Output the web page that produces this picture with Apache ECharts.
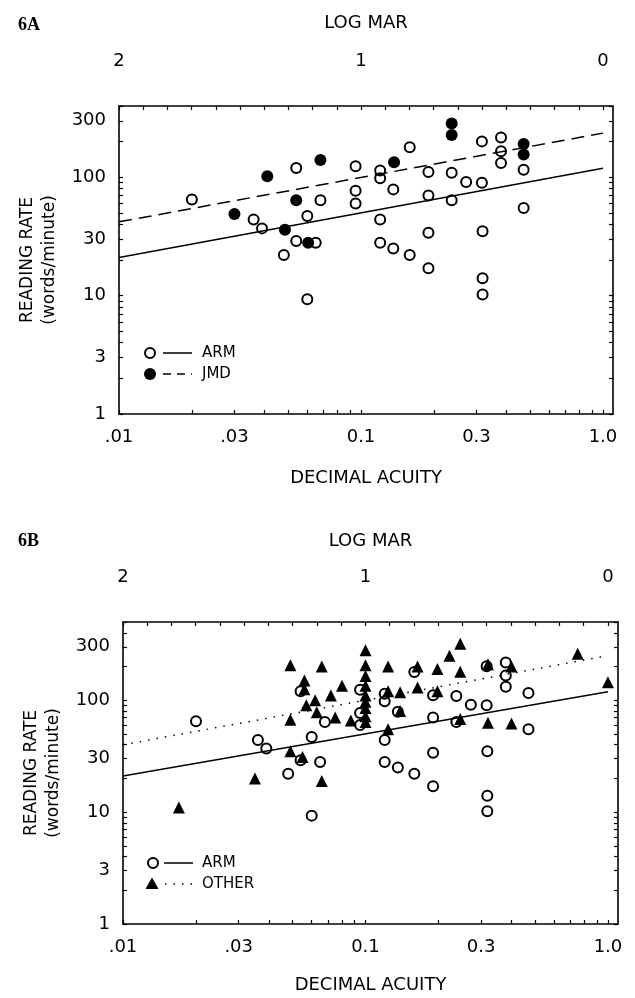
<!DOCTYPE html>
<html><head><meta charset="utf-8">
<script src="https://cdn.jsdelivr.net/npm/echarts@6/dist/echarts.min.js"></script>
<style>html,body{margin:0;padding:0;background:#fff}#c{width:635px;height:998px}</style>
</head><body><div id="c"></div>
<script>
// ---- data (decimal acuity, reading rate in words/minute) ----
const armAcuity = [0.020,0.036,0.039,0.054,0.054,0.048,0.060,0.065,0.060,0.068,0.095,0.095,0.095,0.120,0.120,0.120,0.120,0.136,0.136,0.159,0.159,0.190,0.190,0.190,0.190,0.237,0.237,0.272,0.316,0.316,0.318,0.318,0.318,0.379,0.379,0.379,0.470,0.470];
const armRate    = [65,44,37,120,29,22,47,28,9.3,64,124,77,60,114,98,44,28,79,25,179,22,111,70,34,17,109,64,91,201,90,35,14,10.2,217,166,132,116,55];

const jmdAcuity = [0.030,0.041,0.0485,0.054,0.0605,0.068,0.137,0.237,0.237,0.470,0.470];
const jmdRate    = [49,102,36,64,28,140,134,284,228,191,156];

const otherAcuity = [0.017,0.035,0.049,0.049,0.049,0.055,0.056,0.056,0.057,0.062,0.063,0.066,0.066,0.072,0.075,0.080,0.087,0.100,0.100,0.100,0.100,0.100,0.100,0.100,0.100,0.100,0.124,0.124,0.124,0.139,0.139,0.164,0.164,0.198,0.198,0.222,0.246,0.246,0.246,0.320,0.320,0.400,0.400,0.750,1.000];
const otherRate    = [11,20,205,67,35,31,150,125,90,100,78,200,19,110,70,135,66,280,205,165,135,110,97,85,72,64,200,120,55,80,118,200,130,190,120,250,320,180,68,210,63,200,62,260,145];

// regression lines (end points)
const fitAcuity    = [0.01, 1.0];
const armFitRate   = [21, 119];
const jmdFitRate   = [42, 236];
const otherFitRate = [40, 250];

// ---- ticks and labels ----
const acuityTickValues  = [0.01,0.02,0.03,0.04,0.05,0.06,0.07,0.08,0.09,0.1,0.2,0.3,0.4,0.5,0.6,0.7,0.8,0.9,1.0];
const acuityLabelValues = [0.01,0.03,0.1,0.3,1.0];
const acuityLabels      = ['.01','.03','0.1','0.3','1.0'];
const logMarTickValues  = [0,0.1,0.2,0.3,0.4,0.5,0.6,0.7,0.8,0.9,1.0,1.1,1.2,1.3,1.4,1.5,1.6,1.7,1.8,1.9,2.0];
const logMarLabelValues = [2,1,0];
const logMarLabels      = ['2','1','0'];
const rateTickValues    = [1,2,3,4,5,6,7,8,9,10,20,30,40,50,60,70,80,90,100,200,300,400,500];
const rateLabelValues   = [1,3,10,30,100,300];
const rateLabels        = ['1','3','10','30','100','300'];

const FONT = 'DejaVu Sans';
const BLACK = '#000';
const L10 = Math.log10;

function pair(xs, ys){ return xs.map((x,i)=>[x, ys[i]]); }
function lookup(v, vals, labels, tf){
  for (let i=0;i<vals.length;i++){ if (Math.abs(tf(vals[i]) - v) < 1e-6) return labels[i]; }
  return '';
}

const panels = [
  {grid:{left:119, top:106, width:494, height:308}, yMax:400, xMax:1.1,
   title:'6A', titleY:25, logMarY:22},
  {grid:{left:123, top:622, width:495, height:302}, yMax:500, xMax:1.1,
   title:'6B', titleY:541, logMarY:540}
];

const grids = [], xAxes = [], yAxes = [], series = [];
panels.forEach((p, g) => {
  grids.push(p.grid);
  const axisLine = {show:true, onZero:false, lineStyle:{color:BLACK, width:1.6}};
  const tickStyle = {inside:true, length:4, lineStyle:{color:BLACK, width:1.2}};
  const xmaxLog = L10(p.xMax), ymaxLog = L10(p.yMax);
  // data x axis (log)
  xAxes.push({gridIndex:g, type:'log', logBase:10, min:0.01, max:p.xMax, show:false, axisLine:{onZero:false}});
  // bottom decimal acuity axis
  xAxes.push({gridIndex:g, type:'value', position:'bottom', min:-2, max:xmaxLog,
    axisLine, splitLine:{show:false},
    axisTick:Object.assign({customValues:acuityTickValues.map(L10)}, tickStyle),
    axisLabel:{customValues:acuityLabelValues.map(L10), margin:14, color:BLACK, fontFamily:FONT, fontSize:18,
      formatter:v=>lookup(v, acuityLabelValues, acuityLabels, L10)},
    name:'DECIMAL ACUITY', nameLocation:'middle', nameGap: g===0?55:52,
    nameTextStyle:{color:BLACK, fontFamily:FONT, fontSize:18}
  });
  // top LOG MAR axis
  xAxes.push({gridIndex:g, type:'value', position:'top', min:-2, max:xmaxLog,
    axisLine, splitLine:{show:false},
    axisTick:Object.assign({customValues:logMarTickValues.map(m=>-m)}, tickStyle),
    axisLabel:{customValues:logMarLabelValues.map(m=>-m), margin:36, color:BLACK, fontFamily:FONT, fontSize:18,
      formatter:v=>lookup(v, logMarLabelValues, logMarLabels, m=>-m)},
    name:'LOG MAR', nameLocation:'middle', nameGap: p.grid.top - p.logMarY - 10,
    nameTextStyle:{color:BLACK, fontFamily:FONT, fontSize:18}
  });
  // data y axis (log)
  yAxes.push({gridIndex:g, type:'log', logBase:10, min:1, max:p.yMax, show:false, axisLine:{onZero:false}});
  // left reading rate axis
  yAxes.push({gridIndex:g, type:'value', position:'left', min:0, max:ymaxLog,
    axisLine, splitLine:{show:false},
    axisTick:Object.assign({customValues:rateTickValues.map(L10)}, tickStyle),
    axisLabel:{customValues:rateLabelValues.map(L10), margin:13, color:BLACK, fontFamily:FONT, fontSize:18,
      formatter:v=>lookup(v, rateLabelValues, rateLabels, L10)},
    name:'READING RATE\n(words/minute)', nameLocation:'middle', nameRotate:90, nameGap:58,
    nameTextStyle:{color:BLACK, fontFamily:FONT, fontSize:17, lineHeight:22}
  });
  // right frame axis
  yAxes.push({gridIndex:g, type:'value', position:'right', min:0, max:ymaxLog,
    axisLine, splitLine:{show:false},
    axisTick:Object.assign({customValues:rateTickValues.map(L10)}, tickStyle),
    axisLabel:{show:false}
  });
});

const XA = 0, YA = 0, XB = 3, YB = 3;
const openCircle = {color:'rgba(0,0,0,0)', borderColor:BLACK, borderWidth:2, opacity:1};
const solid = {color:BLACK, opacity:1};
// Panel A
series.push({type:'line', xAxisIndex:XA, yAxisIndex:YA, data:pair(fitAcuity, armFitRate), symbol:'none',
  lineStyle:{color:BLACK, width:1.5}, silent:true, z:2});
series.push({type:'line', xAxisIndex:XA, yAxisIndex:YA, data:pair(fitAcuity, jmdFitRate), symbol:'none',
  lineStyle:{color:BLACK, width:1.5, type:[13,7]}, silent:true, z:2});
series.push({type:'scatter', name:'ARM', xAxisIndex:XA, yAxisIndex:YA, data:pair(armAcuity, armRate),
  symbol:'circle', symbolSize:10, itemStyle:openCircle, z:3});
series.push({type:'scatter', name:'JMD', xAxisIndex:XA, yAxisIndex:YA, data:pair(jmdAcuity, jmdRate),
  symbol:'circle', symbolSize:12, itemStyle:solid, z:4});
// Panel B
series.push({type:'line', xAxisIndex:XB, yAxisIndex:YB, data:pair(fitAcuity, armFitRate), symbol:'none',
  lineStyle:{color:BLACK, width:1.5}, silent:true, z:2});
series.push({type:'line', xAxisIndex:XB, yAxisIndex:YB, data:pair(fitAcuity, otherFitRate), symbol:'none',
  lineStyle:{color:BLACK, width:1.5, type:[1.5,7]}, silent:true, z:2});
series.push({type:'scatter', name:'ARM', xAxisIndex:XB, yAxisIndex:YB, data:pair(armAcuity, armRate),
  symbol:'circle', symbolSize:10, itemStyle:openCircle, z:3});
series.push({type:'scatter', name:'OTHER', xAxisIndex:XB, yAxisIndex:YB, data:pair(otherAcuity, otherRate),
  symbol:'triangle', symbolSize:12, itemStyle:solid, z:4});

function txt(x, y, t, font){
  return {type:'text', x, y, style:{text:t, font, fill:BLACK, align:'left', verticalAlign:'middle'}};
}
const legendFont = '15px "DejaVu Sans"';
const graphic = [
  txt(18, panels[0].titleY, '6A', 'bold 18px "Liberation Serif"'),
  txt(18, panels[1].titleY, '6B', 'bold 18px "Liberation Serif"'),
  // legend A
  {type:'circle', shape:{cx:150, cy:353, r:5}, style:{fill:'none', stroke:BLACK, lineWidth:2}},
  {type:'line', shape:{x1:163, y1:353, x2:192, y2:353}, style:{stroke:BLACK, lineWidth:1.5}},
  txt(202, 353, 'ARM', legendFont),
  {type:'circle', shape:{cx:150, cy:374, r:6}, style:{fill:BLACK}},
  {type:'line', shape:{x1:163, y1:374, x2:192, y2:374}, style:{stroke:BLACK, lineWidth:1.5, lineDash:[8,6]}},
  txt(202, 374, 'JMD', legendFont),
  // legend B
  {type:'circle', shape:{cx:153, cy:863, r:5}, style:{fill:'none', stroke:BLACK, lineWidth:2}},
  {type:'line', shape:{x1:164, y1:863, x2:193, y2:863}, style:{stroke:BLACK, lineWidth:1.5}},
  txt(202, 863, 'ARM', legendFont),
  {type:'polygon', shape:{points:[[152,877.5],[145.5,889],[158.5,889]]}, style:{fill:BLACK}},
  {type:'line', shape:{x1:165, y1:884, x2:195, y2:884}, style:{stroke:BLACK, lineWidth:1.5, lineDash:[1.5,7]}},
  txt(202, 884, 'OTHER', legendFont)
];

const chart = echarts.init(document.getElementById('c'), null, {renderer:'canvas'});
chart.setOption({
  animation:false, backgroundColor:'#fff',
  grid:grids, xAxis:xAxes, yAxis:yAxes, series, graphic
});
</script></body></html>
